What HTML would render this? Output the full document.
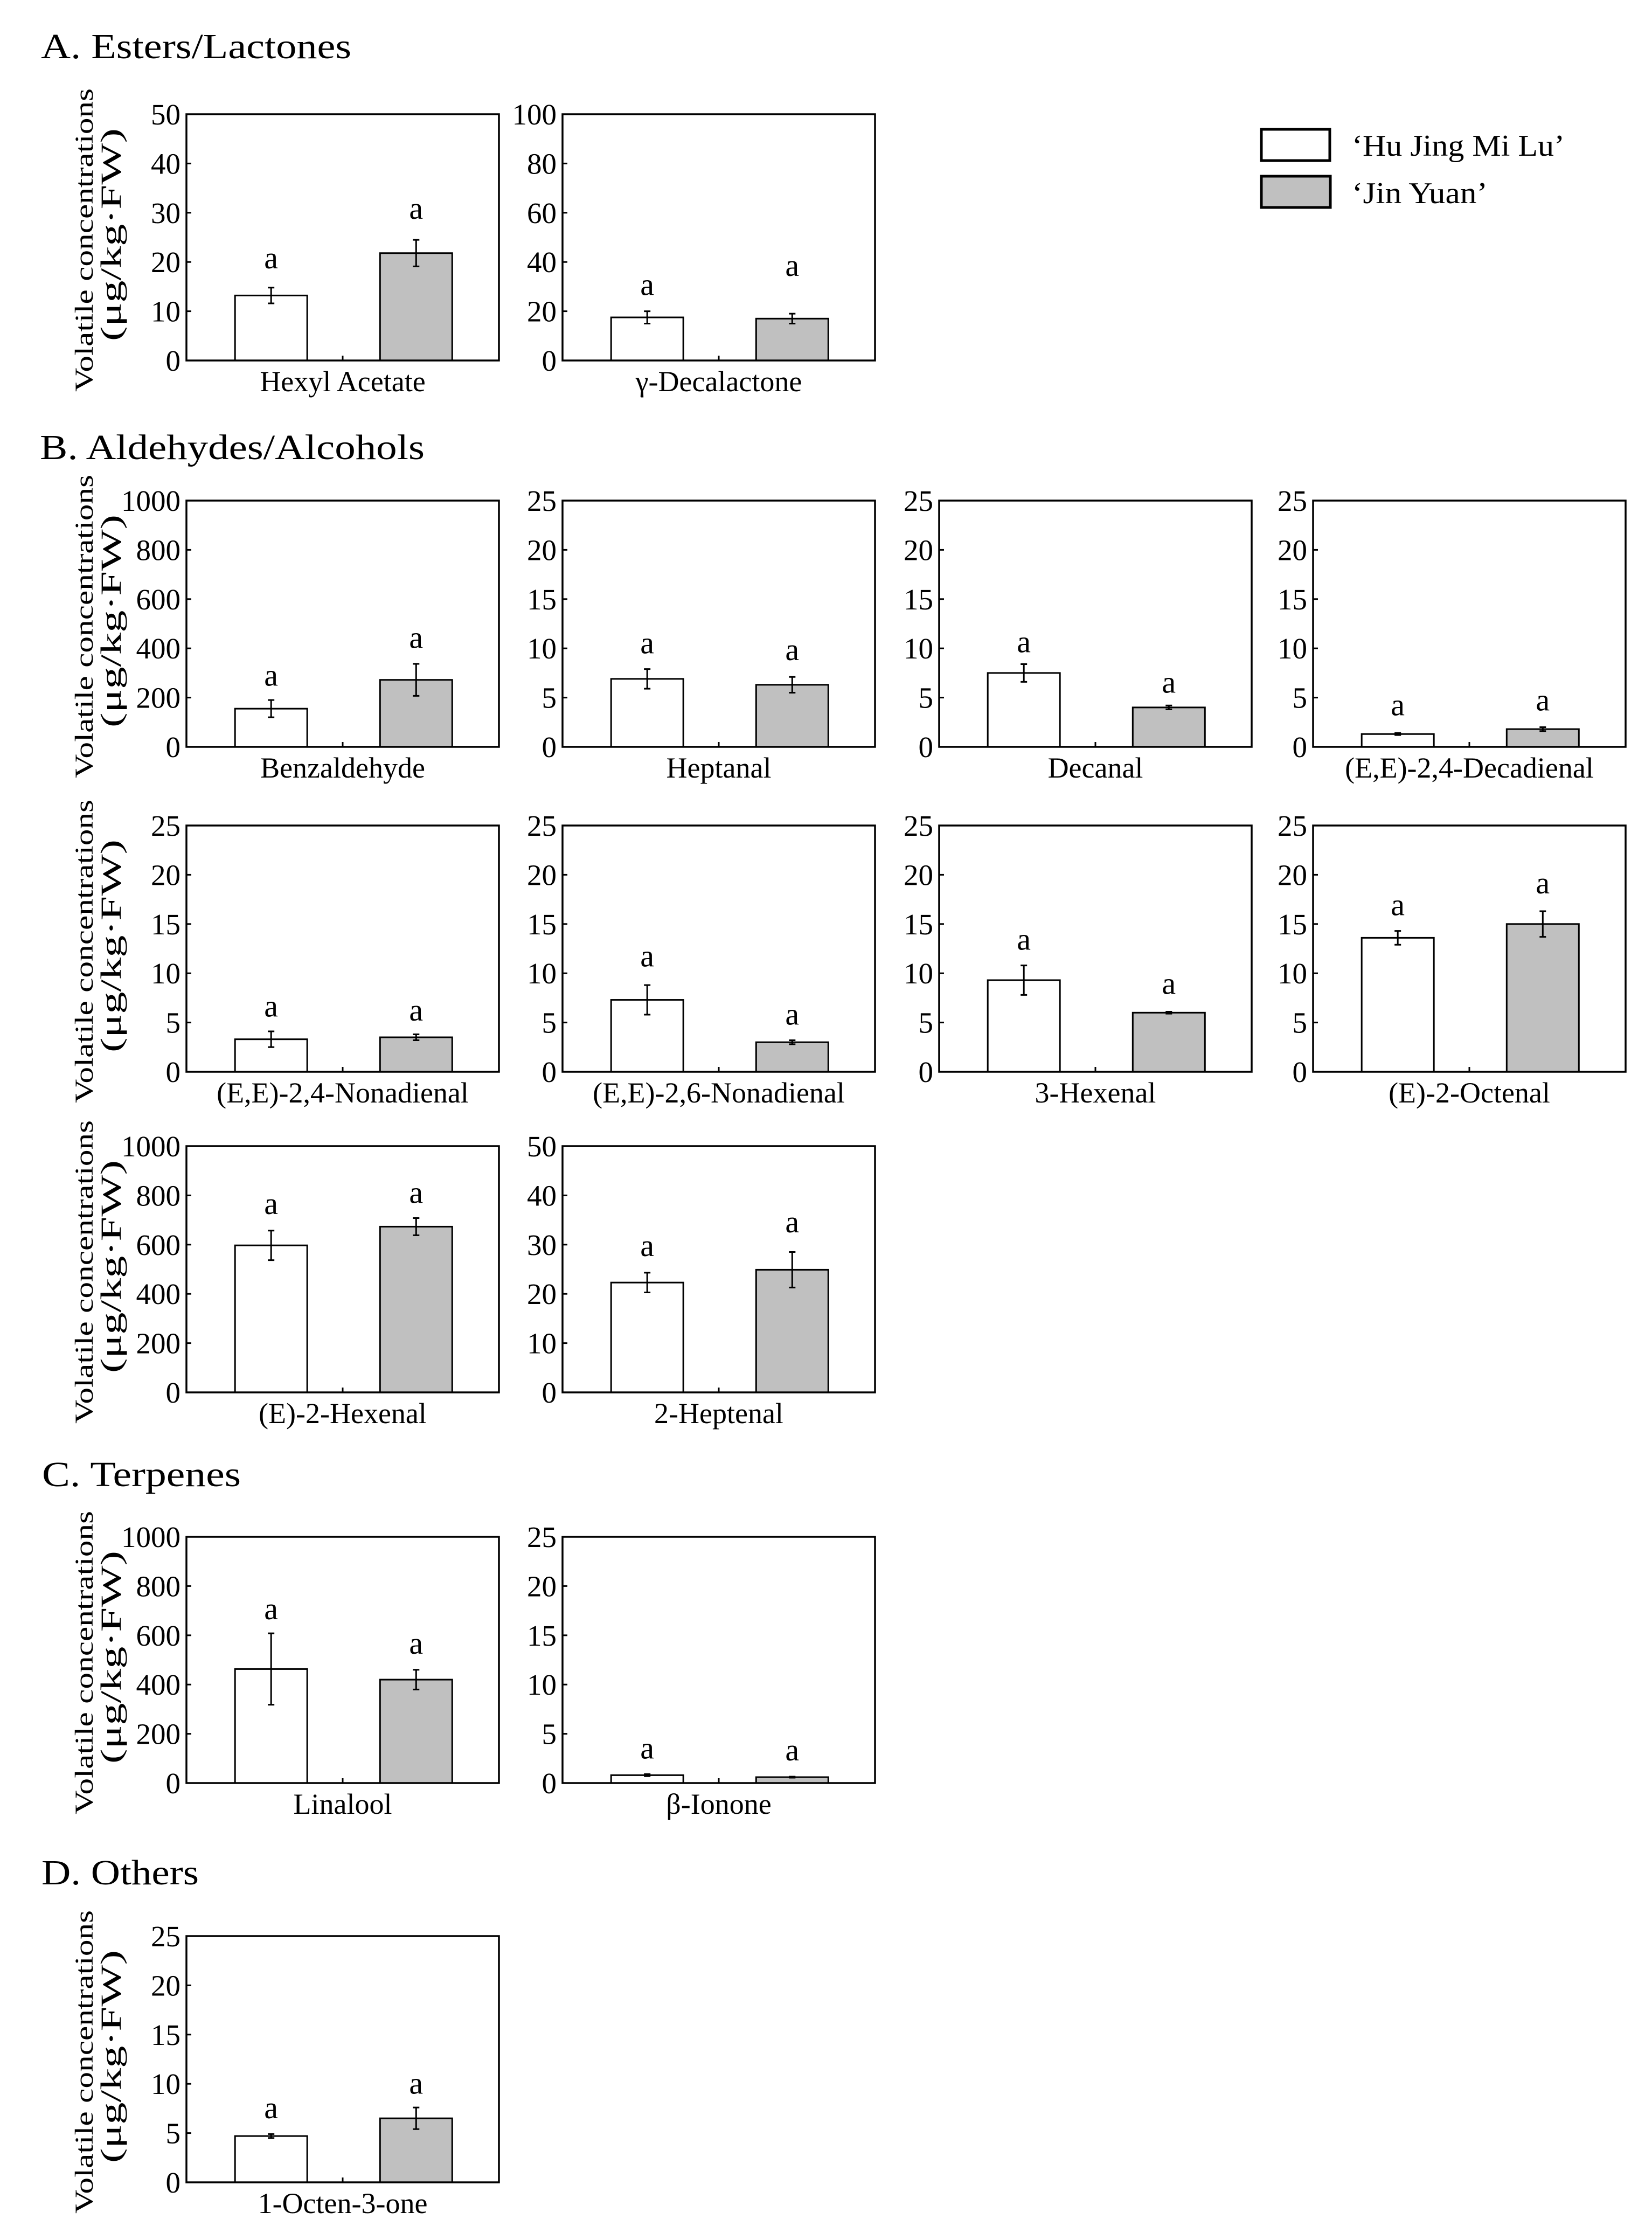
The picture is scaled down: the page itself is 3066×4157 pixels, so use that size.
<!DOCTYPE html>
<html><head><meta charset="utf-8"><title>Volatile concentrations</title>
<style>
html,body{margin:0;padding:0;background:#fff;}
svg{display:block;}
text{font-family:"Liberation Serif","Times New Roman",serif;fill:#000;}
</style></head>
<body>
<svg id="chart" xmlns="http://www.w3.org/2000/svg" width="3066" height="4157" viewBox="0 0 3066 4157">
  <rect x="0" y="0" width="3066" height="4157" fill="#fff"/>
  <text x="76" y="108" font-size="66" textLength="576" lengthAdjust="spacingAndGlyphs">A. Esters/Lactones</text>
  <text x="74" y="852" font-size="66" textLength="714" lengthAdjust="spacingAndGlyphs">B. Aldehydes/Alcohols</text>
  <text x="78" y="2758" font-size="66" textLength="369" lengthAdjust="spacingAndGlyphs">C. Terpenes</text>
  <text x="77" y="3497" font-size="66" textLength="292" lengthAdjust="spacingAndGlyphs">D. Others</text>
  <g>
    <rect x="2341" y="240" width="127" height="58" fill="#fff" stroke="#000" stroke-width="5"/>
    <text x="2509" y="289" font-size="56" textLength="395" lengthAdjust="spacingAndGlyphs">‘Hu Jing Mi Lu’</text>
    <rect x="2341" y="327" width="128" height="58" fill="#c0c0c0" stroke="#000" stroke-width="5"/>
    <text x="2509" y="377" font-size="56" textLength="252" lengthAdjust="spacingAndGlyphs">‘Jin Yuan’</text>
  </g>
</svg>
<script>
// ---- data ----
const compounds = ["Hexyl Acetate","γ-Decalactone","Benzaldehyde","Heptanal","Decanal","(E,E)-2,4-Decadienal","(E,E)-2,4-Nonadienal","(E,E)-2,6-Nonadienal","3-Hexenal","(E)-2-Octenal","(E)-2-Hexenal","2-Heptenal","Linalool","β-Ionone","1-Octen-3-one"];
const axisMax = [50,100,1000,25,25,25,25,25,25,25,1000,50,1000,25,25];
const hjValues = [13.2,17.5,155,6.9,7.5,1.3,3.3,7.3,9.3,13.6,597,22.3,463,0.8,4.7];
const hjErrors = [1.6,2.5,35,1.0,0.9,0.1,0.8,1.5,1.5,0.7,60,2.0,145,0.1,0.2];
const jyValues = [21.8,17.0,272,6.3,4.0,1.8,3.5,3.0,6.0,15.0,673,24.9,420,0.6,6.5];
const jyErrors = [2.7,2.0,65,0.8,0.2,0.2,0.3,0.2,0.1,1.3,35,3.6,40,0.05,1.1];
const sigHJ = ["a","a","a","a","a","a","a","a","a","a","a","a","a","a","a"];
const sigJY = ["a","a","a","a","a","a","a","a","a","a","a","a","a","a","a"];
const sigPosHJ = [18.7,26.6,248,9.5,9.6,3.2,5.6,10.7,12.4,15.9,724,27.7,665,2.5,6.5];
const sigPosJY = [28.8,34.4,402,8.8,5.5,3.7,5.2,4.8,7.9,18.1,769,32.5,525,2.3,9.0];
const tickCount = 5;

// ---- layout (not data) ----
const colLeft = [346,1044,1743,2437];
const rowTop = [212,929,1532,2127,2852,3593];
const boxW = 580, boxH = 457;
const panelGrid = [[0,0],[0,1],[1,0],[1,1],[1,2],[1,3],[2,0],[2,1],[2,2],[2,3],[3,0],[3,1],[4,0],[4,1],[5,0]];
const rowsWithLabel = [0,1,2,3,4,5];

const svg = document.getElementById('chart');
const NS = 'http://www.w3.org/2000/svg';
function mk(tag, attrs){ const e = document.createElementNS(NS, tag); for (const k in attrs) e.setAttribute(k, attrs[k]); return e; }
function slug(s){ return s.toLowerCase().replace(/[^a-z0-9]+/g,'-').replace(/^-|-$/g,''); }

rowsWithLabel.forEach(r => {
  const cy = rowTop[r] + boxH/2 + 5;
  const g = mk('g', {});
  
  
  const t1 = mk('text', {transform:`translate(172,${cy}) rotate(-90)`, 'font-size':48, 'text-anchor':'middle', textLength:563, lengthAdjust:'spacingAndGlyphs'});
  t1.textContent = 'Volatile concentrations';
  
  
  const t2 = mk('text', {transform:`translate(224,${cy - 10}) rotate(-90)`, 'font-size':54, 'text-anchor':'middle', textLength:395, lengthAdjust:'spacingAndGlyphs'});
  t2.textContent = '(μg/kg·FW)';
  
  
  g.appendChild(t1); g.appendChild(t2); svg.appendChild(g);
});

compounds.forEach((name, i) => {
  const [r, c] = panelGrid[i];
  const x0 = colLeft[c], y0 = rowTop[r];
  const max = axisMax[i];
  const yS = v => y0 + boxH - (v / max) * boxH;
  const xS = k => x0 + boxW * (k === 0 ? 0.271 : 0.735);
  const bw = boxW * 0.231;
  const g = mk('g', {});
  
  
  svg.appendChild(g);

  for (let t = 0; t <= tickCount; t++) {
    const v = max * t / tickCount;
    const y = yS(v);
    const tk = mk('line', {x1:x0, x2:x0+9, y1:y, y2:y, stroke:'#000', 'stroke-width':3});
    
    
    g.appendChild(tk);
    const tl = mk('text', {x:x0-11, y:y+19, 'font-size':55, 'text-anchor':'end'});
    tl.textContent = String(v);
    
    
    g.appendChild(tl);
  }
  const mt = mk('line', {x1:x0+boxW/2, x2:x0+boxW/2, y1:y0+boxH, y2:y0+boxH-9, stroke:'#000', 'stroke-width':3});
  
  
  g.appendChild(mt);

  const series = [
    {v:hjValues[i], e:hjErrors[i], fill:'#fff', sig:sigHJ[i], sp:sigPosHJ[i], nm:'hu-jing-mi-lu'},
    {v:jyValues[i], e:jyErrors[i], fill:'#c0c0c0', sig:sigJY[i], sp:sigPosJY[i], nm:'jin-yuan'}
  ];
  series.forEach((s, k) => {
    const cx = xS(k);
    const top = yS(s.v);
    const b = mk('rect', {x:cx-bw/2, y:top, width:bw, height:y0+boxH-top, fill:s.fill, stroke:'#000', 'stroke-width':3});
    
    
    g.appendChild(b);
    const eg = mk('path', {d:`M${cx},${yS(s.v+s.e)}V${yS(s.v-s.e)}M${cx-6},${yS(s.v+s.e)}H${cx+6}M${cx-6},${yS(s.v-s.e)}H${cx+6}`, stroke:'#000', 'stroke-width':3, fill:'none'});
    
    
    g.appendChild(eg);
    const st = mk('text', {x:cx, y:yS(s.sp), 'font-size':58, 'text-anchor':'middle'});
    st.textContent = s.sig;
    
    
    g.appendChild(st);
  });

  const fr = mk('rect', {x:x0, y:y0, width:boxW, height:boxH, fill:'none', stroke:'#000', 'stroke-width':3.5});
  
  
  g.appendChild(fr);

  const xl = mk('text', {x:x0+boxW/2, y:y0+boxH+57, 'font-size':54, 'text-anchor':'middle'});
  xl.textContent = name;
  
  
  g.appendChild(xl);
});
</script>
</body></html>
